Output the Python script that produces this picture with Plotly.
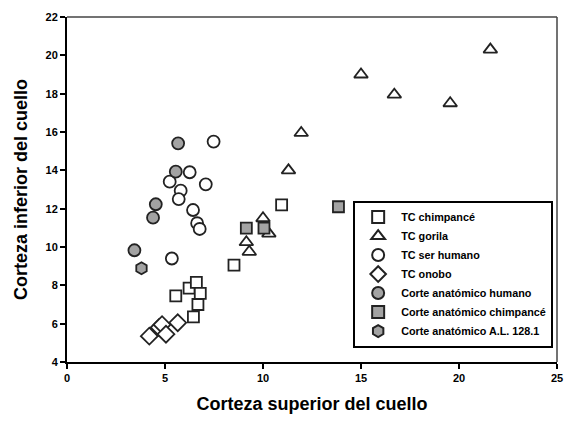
import plotly.graph_objects as go

# ---- data ----
chimp_tc_x = [5.55, 6.23, 6.6, 6.8, 6.68, 6.45, 8.52, 10.95]
chimp_tc_y = [7.45, 7.85, 8.15, 7.58, 7.0, 6.35, 9.05, 12.2]

gorila_x = [9.15, 9.3, 10.0, 10.3, 11.3, 11.95, 15.0, 16.7, 19.55, 21.6]
gorila_y = [10.25, 9.75, 11.5, 10.7, 14.0, 15.95, 19.0, 17.95, 17.5, 20.3]

humano_tc_x = [7.48, 6.26, 5.24, 7.08, 5.80, 5.70, 6.43, 6.64, 6.77, 5.35]
humano_tc_y = [15.5, 13.9, 13.41, 13.27, 12.94, 12.5, 11.93, 11.24, 10.94, 9.4]

onobo_x = [4.2, 4.7, 4.85, 5.05, 5.65]
onobo_y = [5.35, 5.8, 5.95, 5.45, 6.05]

humano_anat_x = [5.67, 5.55, 4.53, 4.39, 3.44]
humano_anat_y = [15.41, 13.93, 12.23, 11.53, 9.83]

chimp_anat_x = [9.15, 10.05, 13.85]
chimp_anat_y = [10.98, 10.98, 12.1]

al_x = [3.8]
al_y = [8.89]

x_ticks = [0, 5, 10, 15, 20, 25]
y_ticks = [4, 6, 8, 10, 12, 14, 16, 18, 20, 22]

FONT = "Arial, Liberation Sans, sans-serif"
LINE = "#222222"
GRAY = "#a3a3a3"

fig = go.Figure()

def add(name, x, y, symbol, fill, size):
    fig.add_trace(go.Scatter(
        x=x, y=y, mode="markers", name=name,
        marker=dict(symbol=symbol, size=size, color=fill,
                    line=dict(color=LINE, width=1.8)),
    ))

add("TC chimpancé", chimp_tc_x, chimp_tc_y, "square", "white", 11)
add("TC gorila", gorila_x, gorila_y, "triangle-up", "white", 12)
add("TC ser humano", humano_tc_x, humano_tc_y, "circle", "white", 12)
add("TC onobo", onobo_x, onobo_y, "diamond", "white", 13)
add("Corte anatómico humano", humano_anat_x, humano_anat_y, "circle", GRAY, 12)
add("Corte anatómico chimpancé", chimp_anat_x, chimp_anat_y, "square", GRAY, 11)
add("Corte anatómico A.L. 128.1", al_x, al_y, "hexagon", GRAY, 12)

fig.update_layout(
    width=565, height=423,
    margin=dict(l=67, r=8, t=17, b=61, autoexpand=False),
    paper_bgcolor="white", plot_bgcolor="white",
    font=dict(family=FONT, color="black"),
    showlegend=True,
    legend=dict(
        x=0.584, y=0.468, xanchor="left", yanchor="top",
        bordercolor="black", borderwidth=2, bgcolor="white",
        font=dict(family=FONT, size=10.8, color="black", weight="bold"),
        tracegroupgap=0, itemsizing="constant", itemwidth=36,
    ),
)

fig.update_xaxes(
    range=[0, 25], tickvals=x_ticks, ticktext=[str(v) for v in x_ticks],
    showgrid=False, zeroline=False, automargin=False,
    showline=True, linecolor="black", linewidth=2,
    ticks="outside", ticklen=5, tickwidth=2, tickcolor="black",
    tickfont=dict(family=FONT, size=11, weight="bold"),
    title=dict(text="Corteza superior del cuello",
               font=dict(family=FONT, size=18, weight="bold"), standoff=14),
)
fig.update_yaxes(
    range=[4, 22], tickvals=y_ticks, ticktext=[str(v) for v in y_ticks],
    showgrid=False, zeroline=False, automargin=False,
    showline=True, linecolor="black", linewidth=2,
    ticks="outside", ticklen=5, tickwidth=2, tickcolor="black",
    tickfont=dict(family=FONT, size=11, weight="bold"),
    title=dict(text="Corteza inferior del cuello",
               font=dict(family=FONT, size=18, weight="bold"), standoff=13),
)

# thin frame on top / right
fig.add_shape(type="line", xref="paper", yref="paper", x0=0, x1=1, y0=1, y1=1,
              line=dict(color="#444", width=1.5))
fig.add_shape(type="line", xref="paper", yref="paper", x0=1, x1=1, y0=0, y1=1,
              line=dict(color="#444", width=1.5))

fig.write_html("out.html",
               config={"displayModeBar": False},
               post_script="document.body.style.margin='0';document.body.style.overflow='hidden';")
